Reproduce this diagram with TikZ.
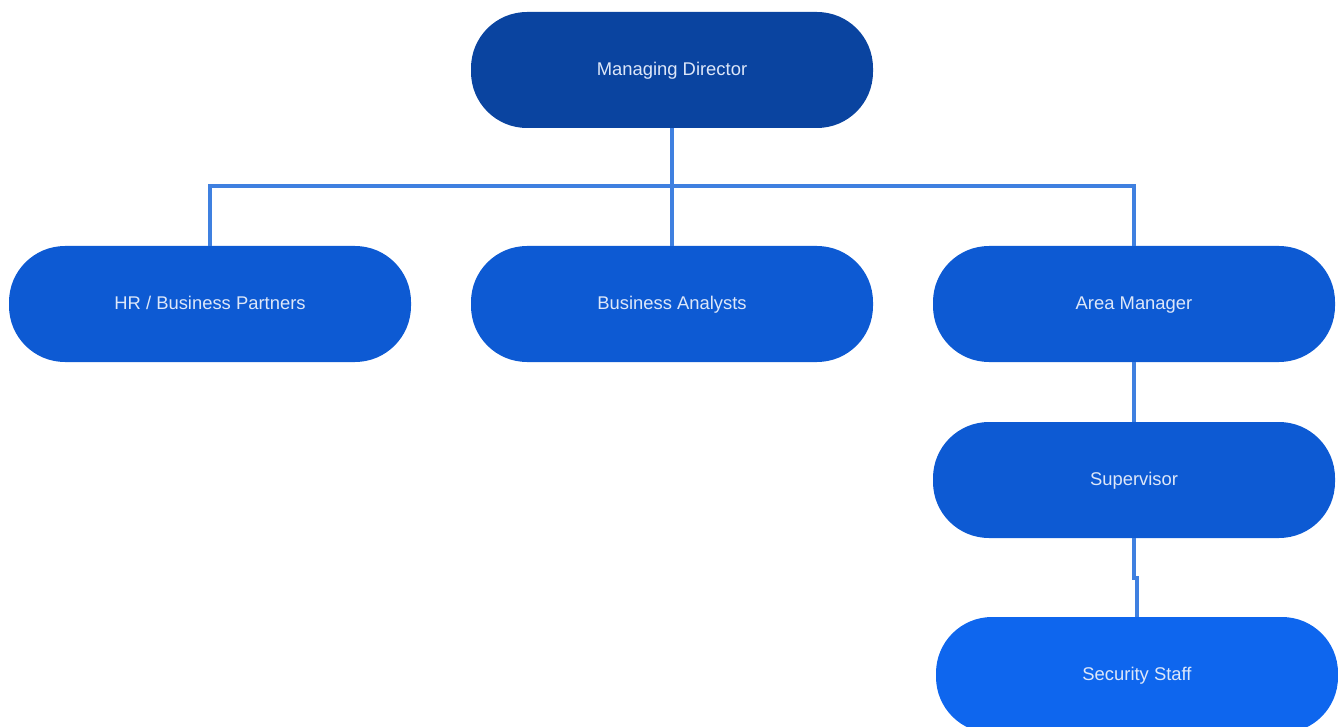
\documentclass[tikz,border=0pt]{standalone}
\usepackage{fontspec}
\setmainfont{Liberation Sans}
\usepackage{tikz}
\usetikzlibrary{positioning,calc}
\definecolor{topblue}{HTML}{0A44A0}
\definecolor{midblue}{HTML}{0D5AD3}
\definecolor{lowblue}{HTML}{0E66EE}
\definecolor{linkblue}{HTML}{3F80E0}
\definecolor{txtblue}{HTML}{DDE7F9}

\begin{document}
\begin{tikzpicture}[
  x=0.75pt,y=-0.75pt,
  role/.style={fill=midblue,rounded corners=42pt,minimum width=301.5pt,minimum height=87pt,inner sep=0pt,
    text height=1.8ex,text depth=.1ex,text=txtblue,font=\fontsize{13.8}{15}\selectfont},
  link/.style={draw=linkblue,line width=3pt}
]
\useasboundingbox (0,0) rectangle (1338,727);
\node[role,fill=topblue] (md) at (672,70) {Managing Director};
\node[role] (hr) at (210,304) {HR / Business Partners};
\node[role] (ba) at (672,304) {Business Analysts};
\node[role] (am) at (1134,304) {Area Manager};
\node[role] (sup) at (1134,480) {Supervisor};
\node[role,fill=lowblue] (ss) at (1137,675) {Security Staff};
% reporting lines
\draw[link] (md.south) -- (ba.north);
\draw[link] (hr.north) -- ++(0,-60) -| (am.north);
\draw[link] (am.south) -- (sup.north);
\draw[link] (sup.south) -- ++(0,40) -| (ss.north);
\end{tikzpicture}
\end{document}
